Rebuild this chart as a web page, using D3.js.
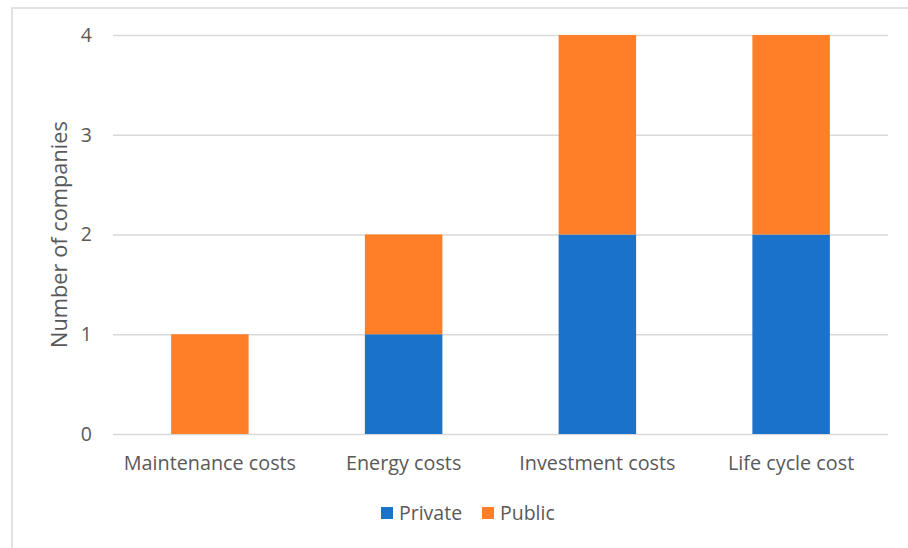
<!DOCTYPE html>
<html>
<head>
<meta charset="utf-8">
<script src="https://cdn.jsdelivr.net/npm/d3@7"></script>
<style>
  html, body { margin: 0; padding: 0; background: #fff; }
  svg { display: block; }
  text { font-family: "Open Sans", "Noto Sans", sans-serif; fill: #595959; }
</style>
</head>
<body>
<svg id="chart" width="908" height="548"></svg>
<script>
// Cost categories and the number of companies per ownership type
const categories = ["Maintenance costs", "Energy costs", "Investment costs", "Life cycle cost"];
const seriesNames = ["Private", "Public"];
const privateValues = [0, 1, 2, 2];
const publicValues = [1, 1, 2, 2];
const yTicks = [0, 1, 2, 3, 4];
const yTitle = "Number of companies";

const colors = { Private: "#1a73c8", Public: "#fe7f27" };

const W = 908, H = 548;
const plot = { left: 113, right: 888, top: 35, bottom: 434 };

const svg = d3.select("#chart");

// outer chart frame
svg.append("rect")
  .attr("x", 12).attr("y", 8)
  .attr("width", W).attr("height", H)
  .attr("fill", "none")
  .attr("stroke", "#d9d9d9")
  .attr("stroke-width", 1.5);

const x = d3.scaleBand()
  .domain(categories)
  .range([plot.left, plot.right])
  .paddingInner(0.6)
  .paddingOuter(0.3);

const y = d3.scaleLinear().domain([0, 4]).range([plot.bottom, plot.top]);

// horizontal gridlines + tick labels
const yAxis = d3.axisLeft(y)
  .tickValues(yTicks)
  .tickSize(-(plot.right - plot.left))
  .tickPadding(21)
  .tickFormat(d3.format("d"));

const gy = svg.append("g")
  .attr("transform", `translate(${plot.left},0)`)
  .call(yAxis);
gy.select(".domain").remove();
gy.selectAll(".tick line").attr("stroke", "#d9d9d9").attr("stroke-width", 1.4);
gy.selectAll(".tick text")
  .attr("font-size", 19.5)
  .style("font-family", '"Open Sans", sans-serif')
  .attr("fill", "#595959");

// stacked bars
const table = categories.map((c, i) => ({ category: c, Private: privateValues[i], Public: publicValues[i] }));
const stacked = d3.stack().keys(seriesNames)(table);

svg.append("g").selectAll("g")
  .data(stacked)
  .join("g")
  .attr("fill", d => colors[d.key])
  .selectAll("rect")
  .data(d => d.filter(p => p[1] - p[0] > 0))
  .join("rect")
  .attr("x", d => x(d.data.category))
  .attr("width", x.bandwidth())
  .attr("y", d => y(d[1]))
  .attr("height", d => y(d[0]) - y(d[1]));

// category axis labels
const gx = svg.append("g")
  .attr("transform", `translate(0,${plot.bottom})`)
  .call(d3.axisBottom(x).tickSize(0).tickPadding(21.5));
gx.select(".domain").remove();
gx.selectAll(".tick text")
  .attr("font-size", 19.8)
  .style("font-family", '"Open Sans", sans-serif')
  .attr("fill", "#595959");

// y axis title
svg.append("text")
  .attr("transform", `translate(67,${(plot.top + plot.bottom) / 2}) rotate(-90)`)
  .attr("text-anchor", "middle")
  .attr("font-size", 21.8)
  .text(yTitle);

// legend
const legend = svg.append("g").attr("transform", "translate(381,513)");
const items = legend.selectAll("g")
  .data(seriesNames)
  .join("g")
  .attr("transform", (d, i) => `translate(${i * 101},0)`);
items.append("rect")
  .attr("x", 0).attr("y", -6)
  .attr("width", 12).attr("height", 12)
  .attr("fill", d => colors[d]);
items.append("text")
  .attr("x", 18).attr("y", 0)
  .attr("dy", "0.35em")
  .attr("font-size", 19.5)
  .text(d => d);
</script>
</body>
</html>
